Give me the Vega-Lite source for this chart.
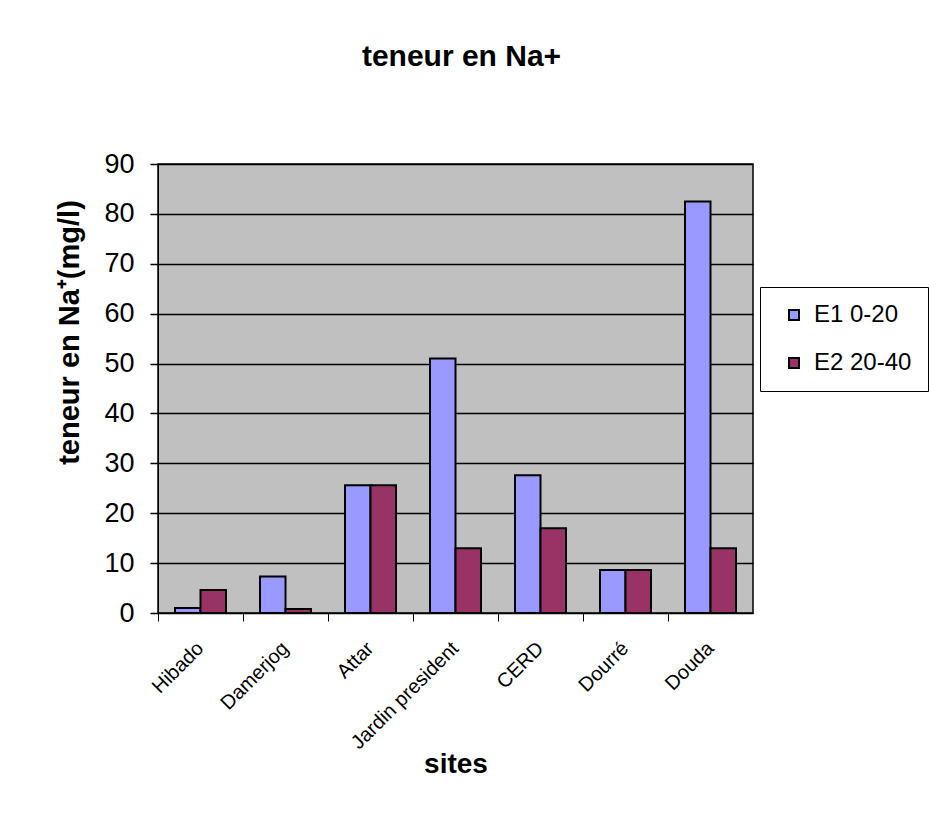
{
  "$schema": "https://vega.github.io/schema/vega-lite/v6.json",
  "width": 595,
  "height": 449,
  "autosize": {"type": "none"},
  "padding": {"left": 158, "top": 164, "right": 176, "bottom": 224},
  "background": "white",
  "title": {"text": "teneur en Na+", "font": "Liberation Sans", "fontSize": 30, "fontWeight": "bold", "color": "black", "offset": 78, "anchor": "middle", "dx": 6},
  "data": {"values": [
    {"site": "Hibado", "serie": "E1 0-20", "value": 1.0},
    {"site": "Hibado", "serie": "E2 20-40", "value": 4.6},
    {"site": "Damerjog", "serie": "E1 0-20", "value": 7.3},
    {"site": "Damerjog", "serie": "E2 20-40", "value": 0.8},
    {"site": "Attar", "serie": "E1 0-20", "value": 25.6},
    {"site": "Attar", "serie": "E2 20-40", "value": 25.6},
    {"site": "Jardin president", "serie": "E1 0-20", "value": 51.0},
    {"site": "Jardin president", "serie": "E2 20-40", "value": 13.0},
    {"site": "CERD", "serie": "E1 0-20", "value": 27.6},
    {"site": "CERD", "serie": "E2 20-40", "value": 17.0},
    {"site": "Dourré", "serie": "E1 0-20", "value": 8.6},
    {"site": "Dourré", "serie": "E2 20-40", "value": 8.6},
    {"site": "Douda", "serie": "E1 0-20", "value": 82.5},
    {"site": "Douda", "serie": "E2 20-40", "value": 13.0}
  ]},
  "mark": {"type": "bar", "stroke": "black", "strokeWidth": 2},
  "encoding": {
    "x": {
      "field": "site", "type": "nominal", "sort": null,
      "scale": {"paddingInner": 0.4, "paddingOuter": 0.2},
      "axis": {
        "title": "sites", "titleFont": "Liberation Sans", "titleFontSize": 28, "titleFontWeight": "bold", "titleColor": "black", "titlePadding": -2,
        "labelAngle": -45, "labelAlign": "right", "labelBaseline": "middle", "labelFont": "Liberation Sans", "labelFontSize": 20, "labelColor": "black", "labelPadding": 24,
        "domainColor": "black", "domainWidth": 1, "tickColor": "black", "tickSize": 8, "tickWidth": 1, "bandPosition": -0.3333
      }
    },
    "xOffset": {"field": "serie", "type": "nominal", "scale": {"paddingInner": 0, "paddingOuter": 0}},
    "y": {
      "field": "value", "type": "quantitative",
      "scale": {"domain": [0, 90], "nice": false},
      "axis": {
        "title": "teneur en Na⁺(mg/l)", "titleFont": "Liberation Sans", "titleFontSize": 29, "titleFontWeight": "bold", "titleColor": "black", "titlePadding": 19, "titleY": 168,
        "values": [0, 10, 20, 30, 40, 50, 60, 70, 80, 90],
        "labelFont": "Liberation Sans", "labelFontSize": 27, "labelColor": "black", "labelPadding": 16,
        "grid": true, "gridColor": "black", "gridWidth": 1.5, "gridOpacity": 1,
        "domainColor": "black", "tickColor": "black", "tickSize": 8, "tickWidth": 1.5
      }
    },
    "color": {
      "field": "serie", "type": "nominal",
      "scale": {"domain": ["E1 0-20", "E2 20-40"], "range": ["#9999FF", "#993366"]},
      "legend": {
        "title": null, "orient": "none", "legendX": 602, "legendY": 123,
        "strokeColor": "black", "fillColor": "white", "padding": 16,
        "symbolType": "square", "symbolSize": 100, "symbolStrokeColor": "black", "symbolStrokeWidth": 2, "symbolOffset": 6,
        "labelFont": "Liberation Sans", "labelFontSize": 24, "labelColor": "black", "rowPadding": 24, "labelOffset": 8
      }
    }
  },
  "config": {
    "view": {"fill": "#C0C0C0", "stroke": "black", "strokeWidth": 1.5}
  }
}
